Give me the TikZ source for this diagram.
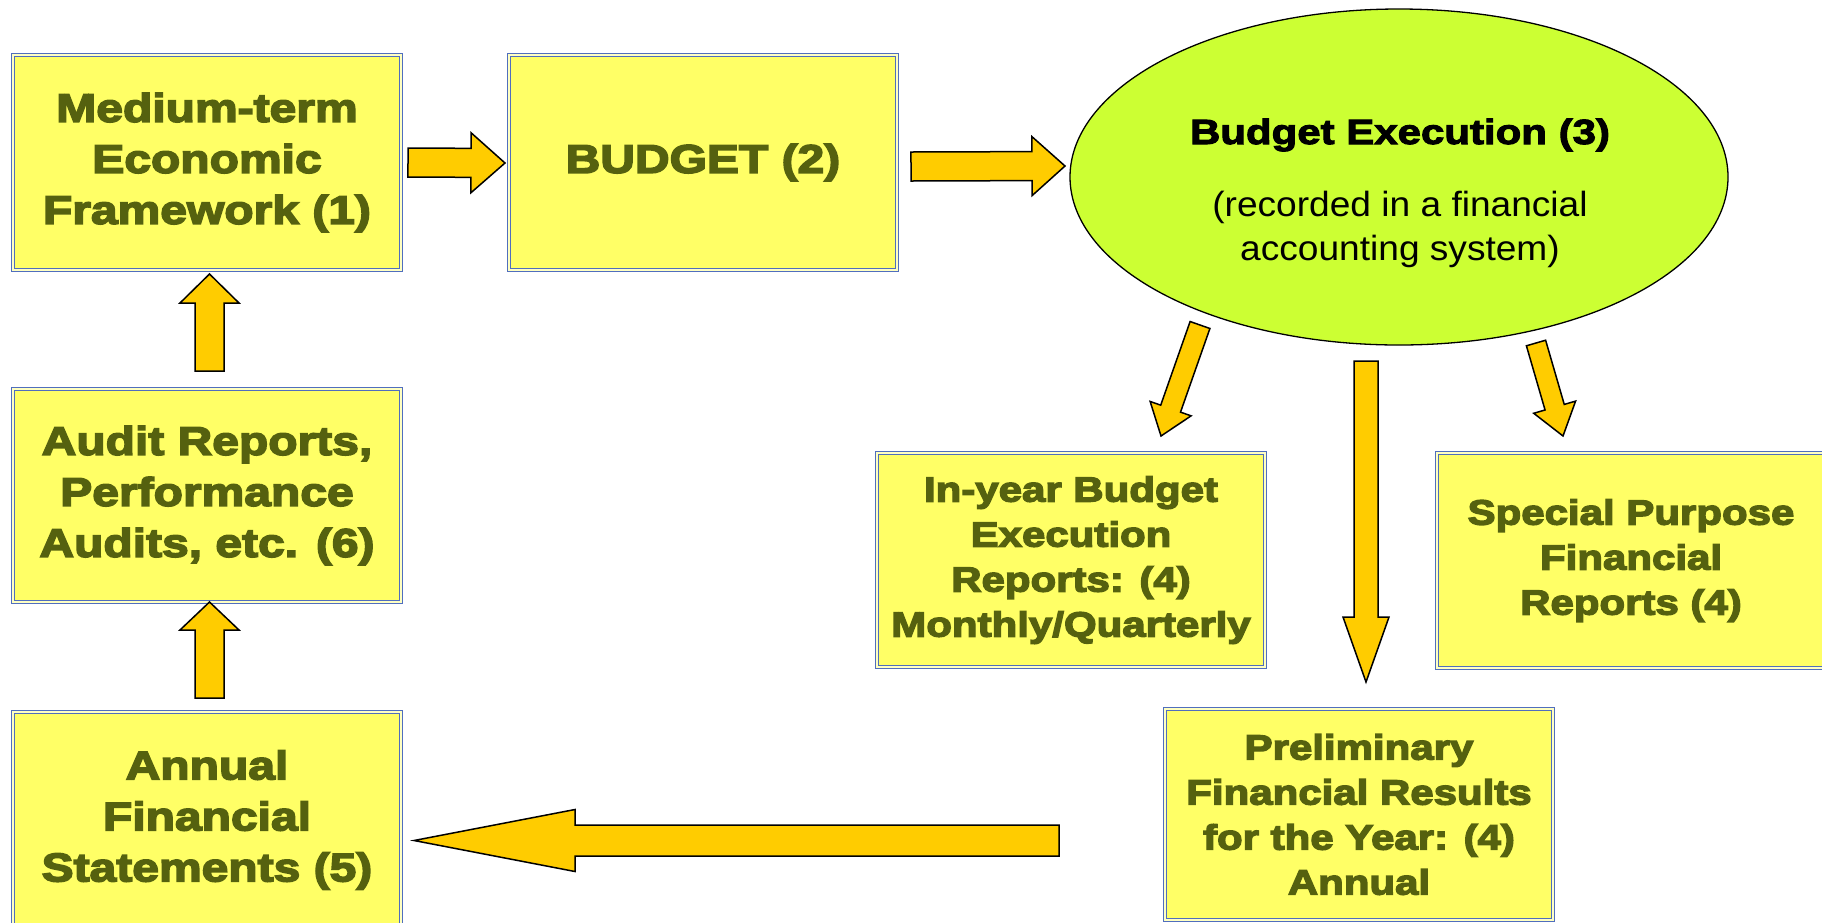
\documentclass[tikz,border=0pt]{standalone}
\usepackage{fontspec}
\setmainfont{Liberation Sans}
\newfontfamily\blackfont[UprightFont={* Bold},FakeStretch=1.2,FakeBold=4]{Liberation Sans}
\newfontfamily\titlefont[UprightFont={* Bold},FakeStretch=1.2,FakeBold=3]{Liberation Sans}
\newfontfamily\subfont[FakeStretch=1.06]{Liberation Sans}
\usetikzlibrary{calc,shapes.geometric}
\definecolor{boxfill}{HTML}{FFFF66}
\definecolor{boxtext}{RGB}{85,97,15}
\definecolor{boxblue}{RGB}{80,110,190}
\definecolor{ellfill}{HTML}{CCFF33}
\definecolor{arrfill}{HTML}{FFCC00}
\tikzset{
  box/.style={rectangle, draw=boxblue, double=boxfill!40!white, double distance=1.6pt,
    line width=0.8pt, fill=boxfill, text=boxtext, align=center, inner sep=0pt},
  bigtext/.style={font={\blackfont\fontsize{40}{51}\selectfont}},
  midtext/.style={font={\blackfont\fontsize{35}{45}\selectfont}},
  blockarr/.style={draw=black, line width=1.5pt, fill=arrfill, line join=miter},
}
% tail, tip, shaft half width, head half width, head length
\newcommand\blockarrow[5]{%
  \coordinate (hb) at ($(#2)!#5!(#1)$);
  \draw[blockarr] ($(#1)!#3!90:(#2)$) -- ($(hb)!#3!90:(#2)$) -- ($(hb)!#4!90:(#2)$)
    -- (#2) -- ($(hb)!#4!-90:(#2)$) -- ($(hb)!#3!-90:(#2)$) -- ($(#1)!#3!-90:(#2)$) -- cycle;
}
\begin{document}
\begin{tikzpicture}[x=1pt,y=-1pt]
\path[use as bounding box] (0,0) rectangle (1822,922);
\clip (0,0) rectangle (1822,922);

% boxes
\node[box, bigtext, minimum width=388pt, minimum height=215pt] (mtef) at (207,162.5)
  {Medium-term\\Economic\\Framework (1)};
\node[box, bigtext, minimum width=388pt, minimum height=215pt] (budget) at (703,162.5)
  {BUDGET (2)};
\node[box, bigtext, minimum width=388pt, minimum height=213pt] (audit) at (207,495.5)
  {Audit Reports,\\Performance\\Audits, etc. (6)};
\node[box, bigtext, minimum width=388pt, minimum height=216pt] (afs) at (207,820)
  {Annual\\Financial\\Statements (5)};
\node[box, midtext, minimum width=388pt, minimum height=214pt] (inyear) at (1071,560)
  {In-year Budget\\Execution\\Reports: (4)\\Monthly/Quarterly};
\node[box, midtext, minimum width=388pt, minimum height=215pt] (special) at (1631,560.5)
  {Special Purpose\\Financial\\Reports (4)};
\node[box, midtext, minimum width=388pt, minimum height=211pt] (prelim) at (1359,814.5)
  {Preliminary\\Financial Results\\for the Year: (4)\\Annual};

% ellipse
\node[ellipse, draw=black, line width=1.3pt, fill=ellfill, minimum width=658pt,
  minimum height=336pt, inner sep=0pt] (exec) at (1399,177) {};
\node[anchor=base, text=black, font={\titlefont\fontsize{35}{40}\selectfont}]
  (exectitle) at (1400,144) {Budget Execution (3)};
\node[anchor=center, text=black, align=center, font={\subfont\fontsize{35}{44}\selectfont}]
  (execsub) at (1400,229) {(recorded in a financial\\accounting system)};

% arrow end points
\coordinate (a12s) at (408,162.5);  \coordinate (a12e) at (505,163);
\coordinate (a23s) at (911,166.5);  \coordinate (a23e) at (1065,166);
\coordinate (a61s) at (209.5,371);  \coordinate (a61e) at (209.5,274);
\coordinate (a56s) at (209.5,698);  \coordinate (a56e) at (209.5,602);
\coordinate (aIs) at (1200,325);    \coordinate (aIe) at (1161,436);
\coordinate (aPs) at (1366,361);    \coordinate (aPe) at (1366,682);
\coordinate (aSs) at (1536,343);    \coordinate (aSe) at (1563,436);
\coordinate (aAs) at (1059,840.5);  \coordinate (aAe) at (414,840.5);

\blockarrow{a12s}{a12e}{14.5pt}{30pt}{34pt}
\blockarrow{a23s}{a23e}{14.5pt}{29.5pt}{33pt}
\blockarrow{a61s}{a61e}{14.5pt}{29.5pt}{29pt}
\blockarrow{a56s}{a56e}{14.5pt}{29.5pt}{28pt}
\blockarrow{aIs}{aIe}{10.5pt}{21.7pt}{29pt}
\blockarrow{aPs}{aPe}{12pt}{23pt}{65pt}
\blockarrow{aSs}{aSe}{10pt}{21.8pt}{30pt}
\blockarrow{aAs}{aAe}{15.5pt}{31pt}{161pt}
\end{tikzpicture}
\end{document}
